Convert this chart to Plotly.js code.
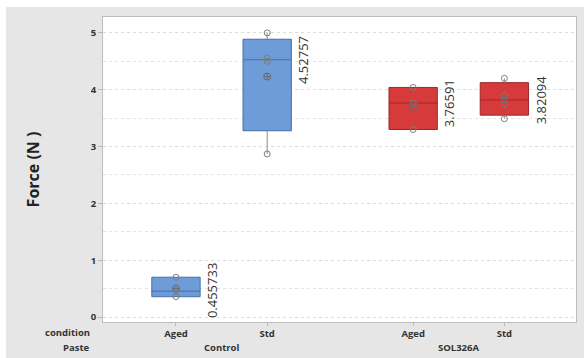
<!DOCTYPE html>
<html>
<head>
<meta charset="utf-8">
<script src="https://cdn.plot.ly/plotly-3.0.1.min.js"></script>
<style>html,body{margin:0;padding:0;background:#fff;}#chart{width:584px;height:358px;}</style>
</head>
<body>
<div id="chart"></div>
<script>
// ---- data ----
const paste = ["Control", "Control", "SOL326A", "SOL326A"];
const condition = ["Aged", "Std", "Aged", "Std"];
const controlAged = [0.357, 0.455733, 0.70];
const controlStd = [2.87, 4.50, 4.55514, 5.00];
const solAged = [3.30, 3.76591, 4.04];
const solStd = [3.49, 3.742, 3.89988, 4.20];
const groups = [controlAged, controlStd, solAged, solStd];
const yTicks = [0, 1, 2, 3, 4, 5];

// Minitab-style quartiles
function quant(arr, p) {
  const s = arr.slice().sort((a, b) => a - b), n = s.length;
  let pos = p * (n + 1);
  if (pos < 1) pos = 1; if (pos > n) pos = n;
  const lo = Math.floor(pos), f = pos - lo;
  return s[lo - 1] + (lo < n ? f * (s[lo] - s[lo - 1]) : 0);
}
const stats = groups.map(g => ({
  min: Math.min(...g), max: Math.max(...g),
  q1: quant(g, 0.25), med: quant(g, 0.5), q3: quant(g, 0.75),
  mean: g.reduce((a, b) => a + b, 0) / g.length
}));

const pasteNames = [...new Set(paste)];
const pos = paste.map((p, i) => pasteNames.indexOf(p) * 2.6 + (condition[i] === "Aged" ? 0 : 1));
const BW = 0.53;
const fills = {"Control": "#6d9cd8", "SOL326A": "#d63a3a"};
const edges = {"Control": "#4670a8", "SOL326A": "#9c2a2a"};
const FONT = "Open Sans, sans-serif";

const traces = [];
// whiskers
const wx = [], wy = [];
stats.forEach((s, i) => { wx.push(pos[i], pos[i], null, pos[i], pos[i], null); wy.push(s.q3, s.max, null, s.q1, s.min, null); });
traces.push({type: "scatter", mode: "lines", x: wx, y: wy, line: {color: "#8c8c8c", width: 1}, hoverinfo: "skip", showlegend: false});

pasteNames.forEach(pn => {
  const idx = paste.map((p, i) => p === pn ? i : -1).filter(i => i >= 0);
  traces.push({
    type: "box", x: idx.map(i => pos[i]),
    q1: idx.map(i => stats[i].q1), median: idx.map(i => stats[i].med), q3: idx.map(i => stats[i].q3),
    lowerfence: idx.map(i => stats[i].q1), upperfence: idx.map(i => stats[i].q3),
    width: BW, whiskerwidth: 0, fillcolor: fills[pn], line: {color: edges[pn], width: 1},
    showlegend: false, hoverinfo: "skip"
  });
});
// individual points
const px = [], py = [];
groups.forEach((g, i) => g.forEach(v => { px.push(pos[i]); py.push(v); }));
traces.push({type: "scatter", mode: "markers", x: px, y: py,
  marker: {symbol: "circle-open", size: 6, color: "#7d7d7d", line: {width: 1}}, showlegend: false, hoverinfo: "skip"});
// means
traces.push({type: "scatter", mode: "markers", x: pos, y: stats.map(s => s.mean),
  marker: {symbol: "circle-cross-open", size: 7, color: "#6b6b6b", line: {width: 1}}, showlegend: false, hoverinfo: "skip"});

const annotations = [];
stats.forEach((s, i) => {
  annotations.push({x: pos[i] + BW / 2 + 0.13, y: s.med, xref: "x", yref: "y", text: String(Number(s.med.toPrecision(6))),
    textangle: -90, showarrow: false, xanchor: "center", yanchor: "middle",
    font: {family: FONT, size: 13, color: "#333"}});
});
pasteNames.forEach(pn => {
  const ps = pos.filter((p, i) => paste[i] === pn);
  annotations.push({x: (Math.min(...ps) + Math.max(...ps)) / 2, y: -0.085, xref: "x", yref: "paper",
    text: "<b>" + pn + "</b>", showarrow: false, xanchor: "center", yanchor: "middle",
    font: {family: FONT, size: 9.5, color: "#333"}});
});
annotations.push({x: -0.023, y: -0.036, xref: "paper", yref: "paper", text: "<b>condition</b>", showarrow: false,
  xanchor: "right", yanchor: "middle", font: {family: FONT, size: 9.5, color: "#333"}});
annotations.push({x: -0.023, y: -0.085, xref: "paper", yref: "paper", text: "<b>Paste</b>", showarrow: false,
  xanchor: "right", yanchor: "middle", font: {family: FONT, size: 9.5, color: "#333"}});

const layout = {
  width: 584, height: 358,
  margin: {l: 103, r: 8, t: 17, b: 36, pad: 0},
  paper_bgcolor: "#e6e6e6", plot_bgcolor: "#ffffff",
  font: {family: FONT, color: "#333"},
  xaxis: {range: [-0.80, 4.385], tickvals: pos, ticktext: condition.map(c => "<b>" + c + "</b>"),
    tickfont: {size: 9.5, color: "#333"}, ticks: "outside", ticklen: 3, tickcolor: "#bbb",
    showgrid: false, zeroline: false, showline: true, linecolor: "#bdbdbd", mirror: true, fixedrange: true},
  yaxis: {range: [-0.088, 5.28], tickvals: yTicks, ticktext: yTicks.map(t => "<b>" + t + "</b>"),
    tickfont: {size: 9.5, color: "#333"}, ticks: "outside", ticklen: 4, tickcolor: "#bbb",
    showgrid: true, gridcolor: "#dcdcdc", griddash: "dot", zeroline: false,
    minor: {dtick: 0.5, tick0: 0, showgrid: true, gridcolor: "#e2e2e2", griddash: "dot"},
    showline: true, linecolor: "#bdbdbd", mirror: true,
    title: {text: "<b>Force (N )</b>", font: {size: 16, color: "#222"}, standoff: 47}},
  annotations: annotations,
  shapes: [
    {type: "rect", xref: "paper", yref: "paper", x0: -0.3, x1: 1.1, y0: 1.0328, y1: 1.1, fillcolor: "#fff", line: {width: 0}},
    {type: "rect", xref: "paper", yref: "paper", x0: -0.3, x1: -0.205, y0: -0.2, y1: 1.1, fillcolor: "#fff", line: {width: 0}}
  ],
  showlegend: false
};
Plotly.newPlot("chart", traces, layout, {displayModeBar: false, staticPlot: true});
</script>
</body>
</html>
